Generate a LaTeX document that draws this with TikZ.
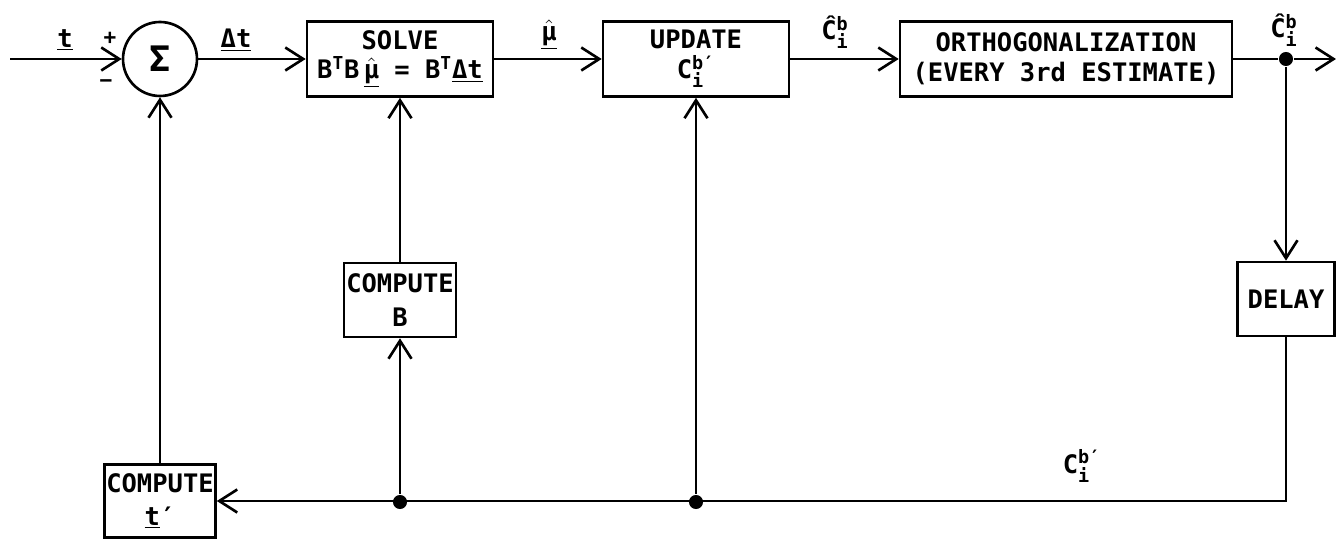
\documentclass[tikz,border=0pt]{standalone}
\usepackage{fontspec}
\setmainfont{DejaVu Sans Mono}
\usetikzlibrary{arrows.meta}
\newcommand\ssb[2]{$^{\hbox{\fontsize{10.5}{10}\selectfont\bfseries #1}}_{\hbox{\fontsize{10.5}{10}\selectfont\bfseries #2}}$}
\newcommand\muhat{$\hat{\hbox{\underline{μ}}}$}
\tikzset{blk/.style={draw,align=center,inner sep=0pt},
  arr/.style={-{Straight Barb[length=3.6mm,width=4.6mm]}},
  jdot/.style={circle,fill,inner sep=0pt,minimum size=8pt}}

\begin{document}
\begin{tikzpicture}[x=0.02cm,y=-0.02cm,line width=1.5pt,font=\fontsize{14.5}{17}\selectfont\bfseries]
\useasboundingbox(0,0)rectangle(1336,540);
% top row
\coordinate(in)at(10,59);\coordinate(out)at(1336,59);
\node[draw,circle,minimum size=1.48cm,inner sep=0pt,font=\fontsize{20}{20}\selectfont\bfseries](sum)at(160,59){Σ};
\node[blk,minimum width=3.72cm,minimum height=1.5cm](solve)at(400,59){SOLVE\\B\textsuperscript{T}B\,\muhat{} = B\textsuperscript{T}\underline{Δt}};
\node[blk,minimum width=3.72cm,minimum height=1.5cm](update)at(696,59){UPDATE\\C\ssb{b′}{i}};
\node[blk,minimum width=6.64cm,minimum height=1.5cm](ortho)at(1066,59){ORTHOGONALIZATION\\(EVERY 3rd ESTIMATE)};
\node[jdot](split)at(1286,59){};
% feedback
\node[blk,minimum width=1.94cm,minimum height=1.48cm](delay)at(1286,299){DELAY};
\node[blk,minimum width=2.24cm,minimum height=1.48cm](cb)at(400,300){COMPUTE\\[2pt]B};
\node[blk,minimum width=2.22cm,minimum height=1.46cm](ct)at(160,501){COMPUTE\\[2pt]\underline{t}′};
\node[jdot](j1)at(400,502){};\node[jdot](j2)at(696,502){};
% connectors
\draw[arr](in)--(sum);\draw[arr](sum)--(solve);\draw[arr](solve)--(update);\draw[arr](update)--(ortho);
\draw(ortho)--(split);\draw[arr](split)--(out);\draw[arr](split)--(delay);
\draw[arr](delay.south)|-(ct);
\draw[arr](j1)--(cb);\draw[arr](cb)--(solve);\draw[arr](j2)--(update);\draw[arr](ct)--(sum);
% labels
\node(tlab)at(65,40){\underline{t}};
\node[font=\fontsize{12}{12}\selectfont\bfseries](plus)at(110,38){+};
\node[font=\fontsize{12}{12}\selectfont\bfseries](minus)at(106,84){−};
\node(dtlab)at(236,40){\underline{Δt}};
\node(mulab)at(549,35){\muhat};
\node(cilab)at(835,32){\^C\ssb{b}{i}};
\node(colab)at(1284,30){\^C\ssb{b}{i}};
\node(cblab)at(1082,466){C\ssb{b′}{i}};
\end{tikzpicture}
\end{document}
